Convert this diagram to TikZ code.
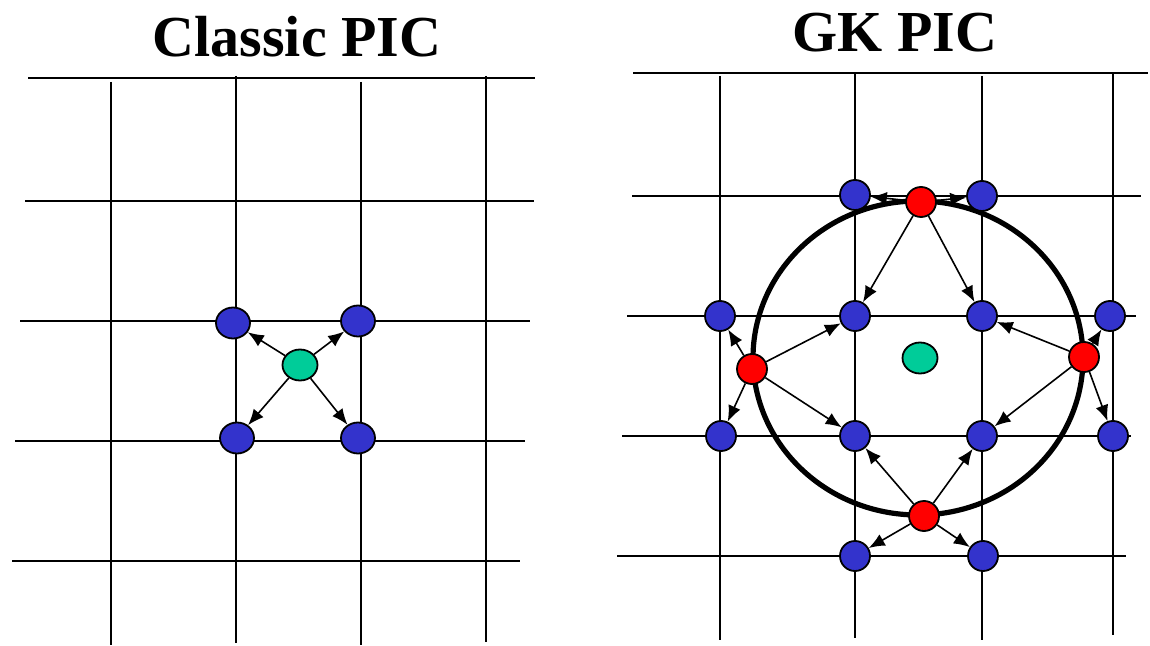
\documentclass[tikz,border=0pt]{standalone}
\usepackage{fontspec}
\setmainfont{Liberation Serif}
\usetikzlibrary{arrows.meta, shapes.geometric}
\definecolor{cellblue}{RGB}{51,51,204}
\definecolor{partgreen}{RGB}{0,204,153}

\begin{document}
\begin{tikzpicture}[x=0.5pt, y=-0.5pt,
    grid/.style={line width=1pt},
    cell/.style={ellipse, draw, line width=0.9pt, fill=cellblue, inner sep=0pt,
                 minimum width=17pt, minimum height=15.5pt},
    gcell/.style={circle, draw, line width=0.9pt, fill=cellblue, inner sep=0pt,
                  minimum size=15pt},
    part/.style={ellipse, draw, line width=0.9pt, fill=partgreen, inner sep=0pt,
                 minimum width=17.5pt, minimum height=15.5pt},
    ring/.style={circle, draw, line width=0.9pt, fill=red, inner sep=0pt,
                 minimum size=15pt},
    title/.style={font=\bfseries\fontsize{29}{34}\selectfont, anchor=base},
    arr/.style={-{Latex[length=8pt, width=6.5pt]}, line width=0.8pt}
]
\useasboundingbox (0,0) rectangle (1150,646);

% titles
\node[title] (t1) at (297,57) {Classic PIC};
\node[title] (t2) at (895,52) {GK PIC};

% classic grid
\draw[grid] (28,78)  -- (535,78);
\draw[grid] (25,201) -- (534,201);
\draw[grid] (20,321) -- (530,321);
\draw[grid] (15,441) -- (525,441);
\draw[grid] (12,561) -- (520,561);
\draw[grid] (111,82) -- (111,645);
\draw[grid] (236,76) -- (236,643);
\draw[grid] (361,82) -- (361,645);
\draw[grid] (486,76) -- (486,642);

% classic particle
\node[cell] (b1) at (233,323) {};
\node[cell] (b2) at (358,321) {};
\node[cell] (b3) at (237,438) {};
\node[cell] (b4) at (358,438) {};
\node[part] (p1) at (300,365) {};

\draw[arr] (p1) -- (b1);
\draw[arr] (p1) -- (b2);
\draw[arr] (p1) -- (b3);
\draw[arr] (p1) -- (b4);

% gk grid
\draw[grid] (633,73)  -- (1148,73);
\draw[grid] (632,196) -- (1141,196);
\draw[grid] (627,316) -- (1136,316);
\draw[grid] (622,436) -- (1131,436);
\draw[grid] (617,556) -- (1126,556);
\draw[grid] (720,76)  -- (720,640);
\draw[grid] (855,73)  -- (855,638);
\draw[grid] (982,76)  -- (982,640);
\draw[grid] (1113,73) -- (1113,635);

% gyro ring
\draw[line width=2.6pt] (918,358) ellipse [x radius=165, y radius=157];

\node[gcell] (q1)  at (855,195) {};
\node[gcell] (q2)  at (982,196) {};
\node[gcell] (q3)  at (720,316) {};
\node[gcell] (q4)  at (855,316) {};
\node[gcell] (q5)  at (982,316) {};
\node[gcell] (q6)  at (1110,316) {};
\node[gcell] (q7)  at (721,436) {};
\node[gcell] (q8)  at (855,436) {};
\node[gcell] (q9)  at (982,436) {};
\node[gcell] (q10) at (1113,436) {};
\node[gcell] (q11) at (855,556) {};
\node[gcell] (q12) at (983,556) {};
\node[part] (p2) at (920,358) {};

\node[ring] (r1) at (921,202) {};
\node[ring] (r2) at (752,369) {};
\node[ring] (r3) at (1084,357) {};
\node[ring] (r4) at (924,516) {};

\draw[arr] (r1) -- (q1);
\draw[arr] (r1) -- (q2);
\draw[arr] (r1) -- (q4);
\draw[arr] (r1) -- (q5);
\draw[arr] (r2) -- (q3);
\draw[arr] (r2) -- (q4);
\draw[arr] (r2) -- (q7);
\draw[arr] (r2) -- (q8);
\draw[arr] (r3) -- (q5);
\draw[arr] (r3) -- (q6);
\draw[arr] (r3) -- (q9);
\draw[arr] (r3) -- (q10);
\draw[arr] (r4) -- (q8);
\draw[arr] (r4) -- (q9);
\draw[arr] (r4) -- (q11);
\draw[arr] (r4) -- (q12);
\end{tikzpicture}
\end{document}
